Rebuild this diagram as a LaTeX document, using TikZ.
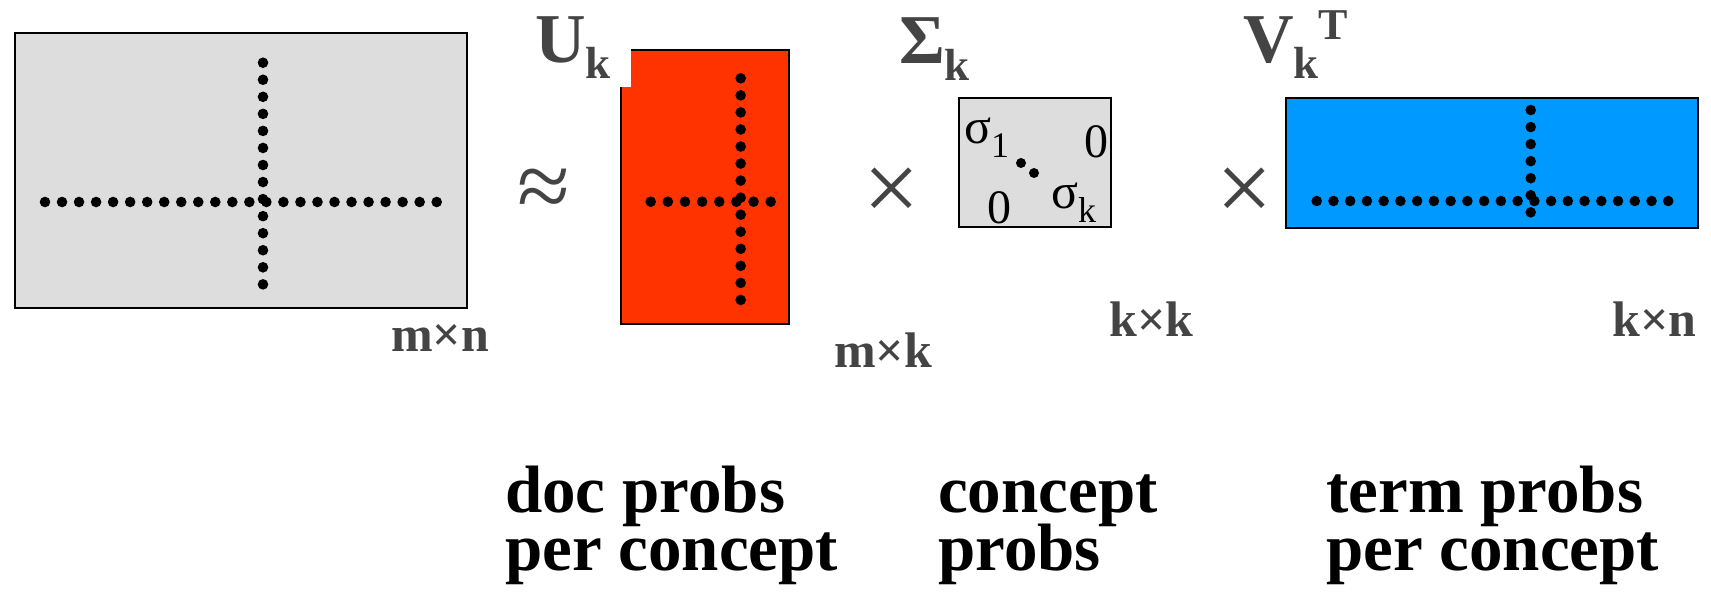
\documentclass[tikz,border=0pt]{standalone}
\usepackage{fontspec}
\setmainfont{Liberation Serif}
\definecolor{lblc}{HTML}{444444}
\definecolor{mgray}{HTML}{DDDDDD}
\definecolor{ured}{HTML}{FF3300}
\definecolor{vblue}{HTML}{0099FF}
\newcommand\fs[1]{\fontsize{#1}{#1}\selectfont}
\newcommand\captfont{\bfseries\fontsize{67}{58}\selectfont\lineskiplimit=-100pt\relax}
\begin{document}
\begin{tikzpicture}[x=1pt,y=-1pt,
  mat/.style={draw=black,line width=2pt},
  lbl/.style={inner sep=0pt,anchor=base west,text=lblc,font=\bfseries},
  bt/.style={inner sep=0pt,anchor=base west,text=black,align=left,font=\captfont},
  sg/.style={inner sep=0pt,anchor=base west,text=black},
  op/.style={inner sep=0pt,anchor=center,text=lblc}]
\useasboundingbox (0,0) rectangle (1711,592);

% A (m x n)
\path[mat,fill=mgray] (15,33) rectangle (467,308);
\foreach \i in {0,...,23} \fill (45+17.03*\i,202) circle (5.3pt);
\foreach \i in {0,...,13} \fill (263,62.7+17.05*\i) circle (5.3pt);

% U_k
\path[mat,fill=ured] (621,50) rectangle (789,324);
\fill[white] (600,40) rectangle (631,87);
\foreach \i in {0,...,7} \fill (650.7+17.14*\i,201.7) circle (5.3pt);
\foreach \i in {0,...,13} \fill (740.7,78.3+17.05*\i) circle (5.3pt);

% Sigma_k
\path[mat,fill=mgray] (959,98) rectangle (1111,227);
\fill (1021,163) circle (5pt);
\fill (1034,173) circle (5pt);

% V_k^T
\path[mat,fill=vblue] (1286,98) rectangle (1698,228);
\foreach \i in {0,...,21} \fill (1316.7+16.74*\i,201) circle (5.3pt);
\foreach \i in {0,...,6} \fill (1530.7,110+17.05*\i) circle (5.3pt);

% operators
\node[op] (approx) at (544,194) {\fs{96}≈};
\node[op] (times1) at (892,195) {\fs{100}×};
\node[op] (times2) at (1245,195) {\fs{100}×};

% matrix names
\node[lbl] (U) at (535,62) {\fs{70}U\raisebox{-16pt}{\fs{45}k}};
\node[lbl] (S) at (899,63) {\fs{70}Σ\raisebox{-17pt}{\fs{45}k}};
\node[lbl] (V) at (1243,62) {\fs{70}V\raisebox{-16pt}{\fs{45}k}\raisebox{23pt}{\fs{44}T}};

% sizes
\node[lbl] (mn) at (391,351) {\fs{50}m×n};
\node[lbl] (mk) at (834,367) {\fs{50}m×k};
\node[lbl] (kk) at (1109,336) {\fs{50}k×k};
\node[lbl] (kn) at (1612,336) {\fs{50}k×n};

% sigma entries
\node[sg] (s1) at (964,143) {\fs{50}σ\raisebox{-14pt}{\fs{36}1}};
\node[sg] (z1) at (1084,157) {\fs{48}0};
\node[sg] (z2) at (987,223) {\fs{48}0};
\node[sg] (sk) at (1051,208) {\fs{50}σ\raisebox{-14pt}{\fs{36}k}};

% captions (base anchor = baseline of last line)
\node[bt] (doc) at (505,570) {doc probs\\per concept};
\node[bt] (con) at (938,570) {concept\\probs};
\node[bt] (ter) at (1326,570) {term probs\\per concept};
\end{tikzpicture}
\end{document}
